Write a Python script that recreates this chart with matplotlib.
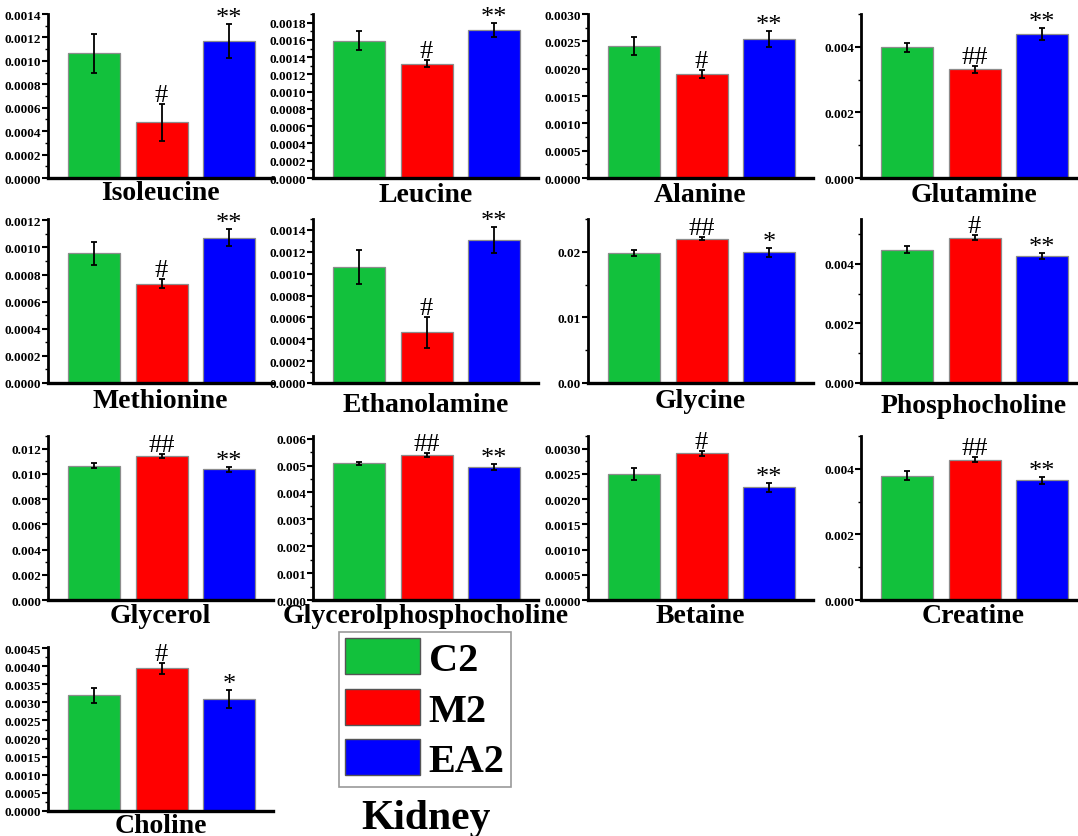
import matplotlib
matplotlib.use('Agg')
import matplotlib.pyplot as plt
from matplotlib.ticker import MultipleLocator, AutoMinorLocator, FormatStrFormatter
import numpy as np

plt.rcParams['font.family'] = ['Liberation Serif', 'DejaVu Serif']

metabolites = ['Isoleucine', 'Leucine', 'Alanine', 'Glutamine',
               'Methionine', 'Ethanolamine', 'Glycine', 'Phosphocholine',
               'Glycerol', 'Glycerolphosphocholine', 'Betaine', 'Creatine',
               'Choline']
groups = ['C2', 'M2', 'EA2']

c2_mean = [0.001063, 0.00159, 0.002412, 0.00398, 0.000956, 0.001062, 0.01985,
           0.004463, 0.01064, 0.005086, 0.0025, 0.003795, 0.003193]
c2_err = [0.00017, 0.00011, 0.00016, 0.00014, 0.000087, 0.000157, 0.00045,
          0.00012, 0.0002, 0.00006, 0.00012, 0.00013, 0.0002]
m2_mean = [0.000474, 0.001323, 0.001904, 0.003316, 0.000732, 0.000462, 0.0220,
           0.00487, 0.011415, 0.005395, 0.002907, 0.004277, 0.003948]
m2_err = [0.00016, 0.00004, 0.00007, 0.00011, 0.000032, 0.00014, 0.0002,
          0.00008, 0.00013, 0.00009, 0.00005, 0.00008, 0.00015]
ea2_mean = [0.001166, 0.001711, 0.002547, 0.004398, 0.001072, 0.001311, 0.0199,
            0.00426, 0.010377, 0.00495, 0.002233, 0.003651, 0.003092]
ea2_err = [0.000145, 0.00008, 0.00015, 0.00018, 0.000062, 0.00012, 0.00066,
           0.00009, 0.0002, 0.00012, 0.00009, 0.00011, 0.00024]

# significance marks: M2 vs C2 (#) and EA2 vs M2 (*)
m2_sig = ['#', '#', '#', '##', '#', '#', '##', '#', '##', '##', '#', '##', '#']
ea2_sig = ['**', '**', '**', '**', '**', '**', '*', '**', '**', '**', '**', '**', '*']

# y axis settings per panel
y_max = [0.0014, 0.0019, 0.003, 0.005, 0.00121, 0.0015, 0.025, 0.0055,
         0.013, 0.0061, 0.00325, 0.005, 0.00453]
y_step = [0.0002, 0.0002, 0.0005, 0.002, 0.0002, 0.0002, 0.01, 0.002,
          0.002, 0.001, 0.0005, 0.002, 0.0005]
y_fmt = ['%.4f', '%.4f', '%.4f', '%.3f', '%.4f', '%.4f', '%.2f', '%.3f',
         '%.3f', '%.3f', '%.4f', '%.3f', '%.4f']
title_gap = [21, 23, 23, 23, 24, 28, 24, 29, 22, 22, 22, 22, 21]

colors = ['#12c13c', '#ff0000', '#0000ff']

W, H = 1078, 837
fig = plt.figure(figsize=(W / 100, H / 100), dpi=100)

col_left = [48, 313, 588, 861]
row_bottom = [179, 384, 601, 812]
ax_w, ax_h = 225, 164

x = np.arange(3)
bars_for_legend = None
for i, name in enumerate(metabolites):
    r, c = divmod(i, 4)
    ax = fig.add_axes([col_left[c] / W, 1 - row_bottom[r] / H, ax_w / W, ax_h / H])
    means = [c2_mean[i], m2_mean[i], ea2_mean[i]]
    errs = [c2_err[i], m2_err[i], ea2_err[i]]
    bars = ax.bar(x, means, 0.77, color=colors, edgecolor='#8c8c8c', linewidth=0.9,
                  yerr=errs, error_kw=dict(ecolor='black', elinewidth=1.3,
                                           capsize=2.2, capthick=1.3))
    if bars_for_legend is None:
        bars_for_legend = bars

    for xi, sig, m, e in [(1, m2_sig[i], means[1], errs[1]), (2, ea2_sig[i], means[2], errs[2])]:
        dy = 3 if sig.startswith('#') else 0
        ax.annotate(sig, (xi, m + e), xytext=(0, dy), textcoords='offset pixels',
                    ha='center', va='baseline', fontsize=19)

    ax.set_xlim(-0.68, 2.65)
    ax.set_ylim(0, y_max[i])
    ax.yaxis.set_major_locator(MultipleLocator(y_step[i]))
    ax.yaxis.set_minor_locator(AutoMinorLocator(2))
    ax.yaxis.set_major_formatter(FormatStrFormatter(y_fmt[i]))
    ax.set_xticks([])
    for s in ['top', 'right']:
        ax.spines[s].set_visible(False)
    ax.spines['left'].set_linewidth(2)
    ax.spines['bottom'].set_linewidth(2.4)
    ax.tick_params(axis='y', which='major', direction='out', length=4, width=1.5,
                   pad=1, labelsize=9.5)
    ax.tick_params(axis='y', which='minor', direction='out', length=2.5, width=1)
    for lab in ax.get_yticklabels():
        lab.set_fontweight('bold')
    ax.annotate(name, (0.5, 0), xycoords='axes fraction', xytext=(0, -title_gap[i]),
                textcoords='offset pixels', ha='center', va='baseline',
                fontsize=20, fontweight='bold')

leg = fig.legend(bars_for_legend.patches, groups, loc='upper left',
                 bbox_to_anchor=(339 / W, 1 - 633 / H),
                 prop=dict(weight='bold', size=29),
                 handlelength=1.85, handleheight=1.0, handletextpad=0.22,
                 labelspacing=0.24, borderpad=0.16, borderaxespad=0,
                 fancybox=False, edgecolor='#9a9a9a', framealpha=1)
leg.get_frame().set_linewidth(1.2)
for p in leg.get_patches():
    p.set_edgecolor('#555555')
    p.set_linewidth(1)

fig.text(426 / W, 1 - 829 / H, 'Kidney', ha='center', va='baseline',
         fontsize=30, fontweight='bold')

fig.savefig('out.png', dpi=100)
